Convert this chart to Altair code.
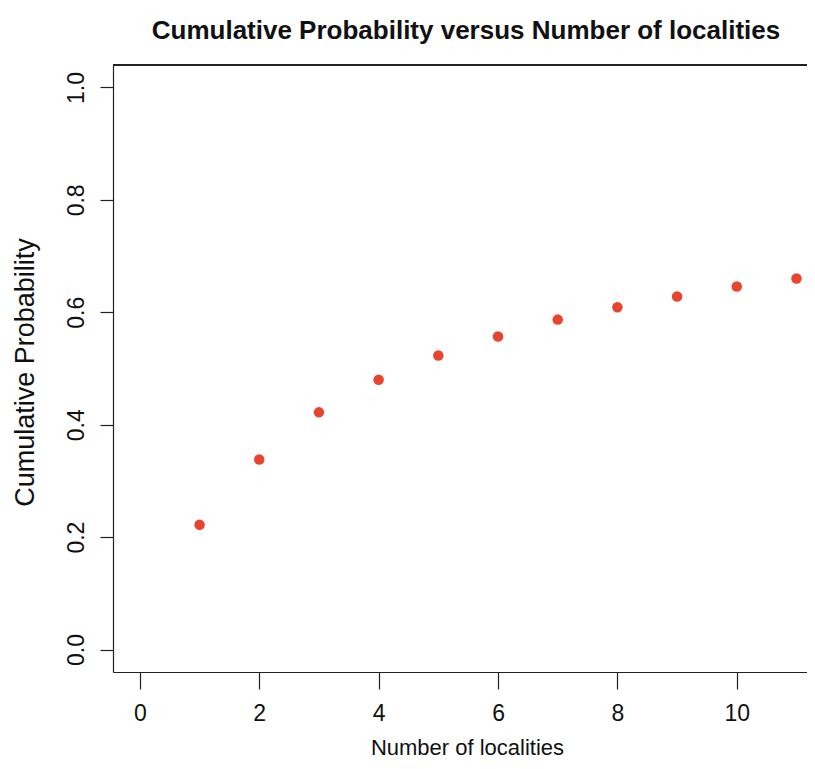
import altair as alt
import pandas as pd

localities = [1, 2, 3, 4, 5, 6, 7, 8, 9, 10, 11]
cum_prob = [0.222, 0.338, 0.422, 0.480, 0.523, 0.557, 0.587, 0.609, 0.628, 0.646, 0.660]
x_ticks = [0, 2, 4, 6, 8, 10]
y_ticks = [0.0, 0.2, 0.4, 0.6, 0.8, 1.0]

df = pd.DataFrame({"n": localities, "p": cum_prob})

W, H = 694, 607
FONT = "Liberation Sans, Arial, Helvetica, sans-serif"

points = alt.Chart(df).mark_point(
    filled=True, shape="circle", size=110, color="#e8452e", opacity=1
).encode(
    x=alt.X("n:Q",
            scale=alt.Scale(domain=[-0.45, 11.176], nice=False, zero=False),
            axis=alt.Axis(values=x_ticks, format="d", title="Number of localities",
                          grid=False, domain=True, domainColor="#222", domainWidth=1.2,
                          tickColor="#222", tickWidth=1.2, tickSize=17,
                          labelFont=FONT, labelFontSize=23, labelColor="#111",
                          labelBaseline="alphabetic", labelPadding=31,
                          titleFont=FONT, titleFontSize=22, titleFontWeight="normal",
                          titleColor="#111", titleBaseline="alphabetic",
                          titleX=354, titleY=82, titleAlign="center")),
    y=alt.Y("p:Q",
            scale=alt.Scale(domain=[-0.04, 1.04], nice=False, zero=False),
            axis=alt.Axis(values=y_ticks, format=".1f", title="Cumulative Probability",
                          grid=False, domain=True, domainColor="#222", domainWidth=1.2,
                          tickColor="#222", tickWidth=1.2, tickSize=13,
                          labelFont=FONT, labelFontSize=23, labelColor="#111",
                          labelAngle=270, labelAlign="center", labelBaseline="alphabetic",
                          labelPadding=17,
                          titleFont=FONT, titleFontSize=27, titleFontWeight="normal",
                          titleColor="#111", titleAngle=270, titleAlign="center",
                          titleBaseline="middle", titleX=-88, titleY=307)),
)

top_border = alt.Chart(df).mark_rule(color="#222", strokeWidth=1.2).encode(
    x=alt.value(0), x2=alt.value(W), y=alt.value(0)
)

chart = alt.layer(points, top_border).properties(
    width=W, height=H,
    autosize=alt.AutoSizeParams(type="none"),
    padding={"left": 105, "top": 57, "right": 0, "bottom": 88},
    title=alt.Title("Cumulative Probability versus Number of localities",
                    font=FONT, fontSize=26, fontWeight="bold", color="#111",
                    baseline="alphabetic", offset=0, dy=1, dx=6, anchor="middle"),
).configure_view(stroke=None).configure(background="white")

chart.save("out.html", embed_options={"renderer": "svg", "actions": False})
